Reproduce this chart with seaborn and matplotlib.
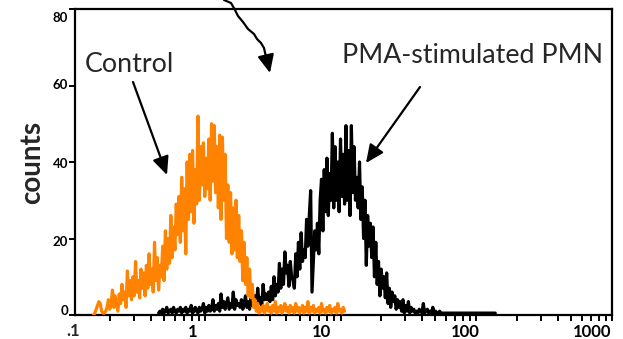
import numpy as np
import pandas as pd
import matplotlib
matplotlib.use("Agg")
import matplotlib.pyplot as plt
from matplotlib.lines import Line2D
from matplotlib.transforms import ScaledTranslation
import seaborn as sns

# Histogram channels are log-spaced: 100 channels per decade of fluorescence
CH_STEP = 0.01
control_first_log = -0.82   # log10 of the first occupied control channel
pma_first_log = -0.34       # log10 of the first occupied PMA channel

control_counts = [
    0, 0.5, 1.5, 2.5, 3.5, 3, 1, 0.5, 0.5, 1,
    2, 4, 1.5, 3, 6.5, 2, 5, 3, 1, 5.5,
    3, 8, 4, 6, 2, 11.5, 5, 9, 4, 10,
    5, 14, 6, 9, 4.5, 12, 7, 11, 5, 13,
    7, 16, 8, 12, 6, 19, 9, 15, 6.5, 13,
    10, 18, 9, 22, 12, 20, 13.5, 26, 15, 23,
    17, 29, 21, 31, 19, 36, 22, 33, 16, 40,
    25, 42, 27, 43, 24, 38, 29, 52, 30, 44,
    34, 45, 31, 41, 33, 46, 30, 50, 35, 49.5,
    32, 44, 28, 47, 25, 46.5, 30, 42, 20, 34,
    19, 32, 16, 28, 17, 30, 15, 26, 14, 22,
    9, 19, 8, 15, 5, 12, 4.5, 8, 2, 4,
    1, 3, 0.5, 2, 1, 2.5, 0.5, 1.5, 3, 1,
    2, 0.5, 2.5, 1, 3.5, 0.5, 2, 1, 2.5, 0.5,
    1.5, 3, 1, 2, 0.5, 2.5, 1, 2, 0.5, 3,
    1, 2, 0.5, 1.5, 2.5, 0.5, 2, 1, 3.5, 0.5,
    2, 1, 2.5, 0.5, 1.5, 1, 2, 0.5, 3, 1,
    1.5, 0.5, 2, 1, 2.5, 0.5, 1.5, 1, 2, 0.5,
    3, 1, 1.5, 0.5, 2, 1,
]

pma_counts = [
    0.5, 1, 0.5, 1.5, 0.5, 1, 2, 0.5, 1, 1.5,
    0.5, 2, 1, 0.5, 1.5, 1, 2, 0.5, 1.5, 1,
    2, 0.5, 1.5, 1, 2.5, 0.5, 1, 2, 1, 0.5,
    2, 1, 1.5, 3, 0.5, 2, 1, 2.5, 1, 1.5,
    4, 1, 2.5, 1.5, 3, 1, 5.5, 2, 3.5, 1.5,
    3, 4.5, 1.5, 3, 2, 6, 1.5, 4, 2.5, 3,
    2, 4, 1.5, 3, 5, 2, 3.5, 1.5, 4.5, 2.5,
    3, 5, 2, 7, 3, 4.5, 2.5, 8, 4, 5.5,
    4, 6, 3.5, 7.5, 4, 10, 5, 8, 6, 13.5,
    7, 12, 8, 16.5, 11, 13, 7.5, 14, 10, 9,
    7, 16, 10, 19, 12, 21.5, 14, 17, 15, 25,
    18, 26, 32.5, 6, 14, 22, 17, 24, 16, 30,
    35.5, 22, 38, 27, 41, 26, 37, 30, 47.5, 28,
    44, 30, 40, 27, 46, 31, 42, 29, 49.5, 30,
    43, 26, 49.5, 32, 44, 30, 36, 28, 40, 25,
    33.5, 20, 30, 13, 26, 18, 24, 15, 23, 10,
    19, 8, 14, 5, 12, 7, 10, 4.5, 11, 3,
    7, 2, 6, 3.5, 5, 1.5, 4, 2, 3.5, 1,
    4, 0.5, 2.5, 1, 3.5, 0.5, 2, 1, 1.5, 0.5,
    1, 0.5, 1.5, 1, 0.5, 3, 0.5, 1, 1.5, 0.5,
    1, 0.5, 2, 0.5, 1, 0.5, 0.5, 1, 0.5, 0.5,
    0.5, 0.5, 0.5, 0.5, 0.5, 0.5, 0.5, 0.5, 0.5, 0.5,
    0.5, 0.5, 0.5, 0.5, 0.5, 0.5, 0.5, 0.5, 0.5, 0.5,
    0.5, 0.5, 0.5, 0.5, 0.5, 0.5, 0.5, 0.5, 0.5, 0.5,
    0.5, 0.5, 0.5, 0.5, 0.5, 0.5, 0.5, 0.5, 0.5,
]

x_ticks = [1, 10, 100, 1000]
x_tick_labels = ["1", "10", "100", "1000"]
x_label_shift_px = [-12, -19, -11, -20]
y_ticks = [0, 20, 40, 60, 80]
y_tick_labels = ["0", "20", "40", "60", "80"]
y_label_shift_px = [5, -2, -1, 1.5, -8.5]

control = pd.DataFrame({
    "fluorescence": 10 ** (control_first_log + CH_STEP * np.arange(len(control_counts))),
    "counts": control_counts,
})
pma = pd.DataFrame({
    "fluorescence": 10 ** (pma_first_log + CH_STEP * np.arange(len(pma_counts))),
    "counts": pma_counts,
})

sns.set_theme(style="white")
plt.rcParams["font.family"] = ["Lato", "DejaVu Sans"]

W, H = 623, 339
fig = plt.figure(figsize=(W / 100, H / 100), dpi=100)
ax = fig.add_axes([75 / W, (H - 315) / H, (612 - 75) / W, (315 - 9) / H])

sns.lineplot(data=pma, x="fluorescence", y="counts", ax=ax, estimator=None,
             color="black", lw=2.3, zorder=3)
sns.lineplot(data=control, x="fluorescence", y="counts", ax=ax, estimator=None,
             color="#ff8200", lw=2.3, zorder=4)

ax.set_xscale("log")
ax.set_xlim(10 ** -0.956, 10 ** 3.0)
ax.set_ylim(0, 80)
ax.set_xlabel("")
ax.set_ylabel("counts", fontsize=20, fontweight="bold", labelpad=5)

for s in ax.spines.values():
    s.set_linewidth(1.6)
    s.set_color("black")

ax.set_xticks(x_ticks)
ax.set_xticklabels(x_tick_labels, fontsize=12, fontweight="bold")
ax.xaxis.set_minor_locator(matplotlib.ticker.LogLocator(base=10, subs=np.arange(2, 10)))
ax.xaxis.set_minor_formatter(matplotlib.ticker.NullFormatter())
ax.tick_params(axis="x", which="both", direction="out", length=4, width=1.4,
               bottom=True, pad=2.5, colors="black")
for lab, dx in zip(ax.get_xticklabels(), x_label_shift_px):
    lab.set_transform(lab.get_transform() + ScaledTranslation(dx / 100, 0, fig.dpi_scale_trans))

ax.set_yticks(y_ticks)
ax.set_yticklabels(y_tick_labels, fontsize=9.5, fontweight="bold")
ax.tick_params(axis="y", which="both", direction="out", length=4, width=1.4,
               left=True, pad=1, colors="black")
for lab, dy in zip(ax.get_yticklabels(), y_label_shift_px):
    lab.set_transform(lab.get_transform() + ScaledTranslation(0, dy / 100, fig.dpi_scale_trans))

# the 0.1 decade sits just left of the plotted range
ax.annotate(".1", xy=(73, H - 331), xycoords="figure pixels", ha="center", va="center",
            fontsize=12, fontweight="bold", annotation_clip=False)


def fp(x, y):
    return (x, H - y)


arrow = dict(arrowstyle="-|>,head_length=1.1,head_width=0.5", lw=1.6, color="black",
             shrinkA=0, shrinkB=0, mutation_scale=10)

ax.annotate("Control", xy=fp(85, 72), xycoords="figure pixels", ha="left", va="baseline",
            fontsize=19.3, annotation_clip=False)
ax.annotate("", xy=fp(167, 175), xytext=fp(133, 82), xycoords="figure pixels",
            textcoords="figure pixels", arrowprops=arrow, annotation_clip=False)

ax.annotate("PMA-stimulated PMN", xy=fp(342, 63), xycoords="figure pixels", ha="left",
            va="baseline", fontsize=19.3, annotation_clip=False)
ax.annotate("", xy=fp(366, 163), xytext=fp(420, 87), xycoords="figure pixels",
            textcoords="figure pixels", arrowprops=arrow, annotation_clip=False)

# wavy pointer entering from above the frame
wx = [224, 231, 235, 238, 243, 248, 254, 257, 261, 264, 266]
wy = [0, 3, 10, 16, 22, 29, 34, 39, 43, 48, 57]
fig.add_artist(Line2D([x / W for x in wx], [(H - y) / H for y in wy],
                      transform=fig.transFigure, color="black", lw=1.6))
ax.annotate("", xy=fp(270, 73), xytext=fp(266, 56), xycoords="figure pixels",
            textcoords="figure pixels", arrowprops=arrow, annotation_clip=False)

fig.savefig("out.png", dpi=100)
